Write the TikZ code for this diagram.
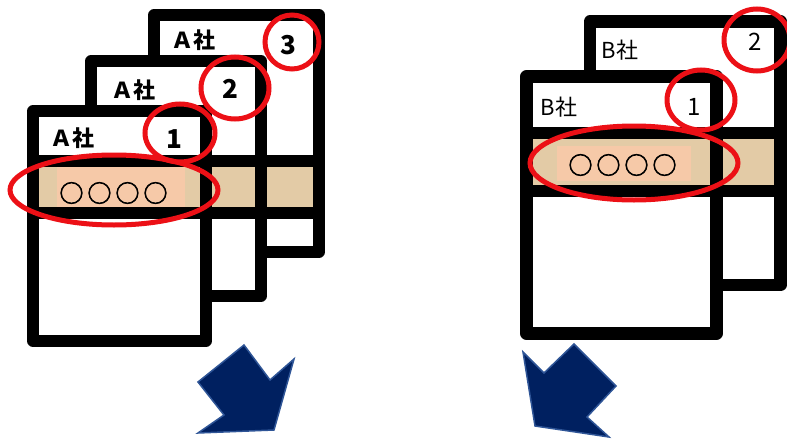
\documentclass[tikz,border=0pt]{standalone}
\usepackage{fontspec}
\newfontfamily\jp{Noto Sans CJK JP}
\newfontfamily\jpo[FakeBold=2.5]{Noto Sans CJK JP}
\definecolor{tanband}{RGB}{227,203,166}
\definecolor{peach}{RGB}{246,201,168}
\definecolor{hred}{RGB}{236,16,22}
\definecolor{navy}{RGB}{0,32,96}
\definecolor{navyedge}{RGB}{47,85,151}
\newcommand\oo{○\hspace{4pt}○\hspace{4pt}○\hspace{4pt}○}
\begin{document}
\begin{tikzpicture}[x=1pt,y=-1pt,
  bdl/.style={line width=11.5pt,black,line join=round,line cap=round},
  bdr/.style={line width=12.5pt,black,line join=round,line cap=round},
  ring/.style={draw=hred,line width=5pt},
  lbl/.style={inner sep=0pt,font=\jp\bfseries\fontsize{22}{22}\selectfont},
  num/.style={inner sep=0pt,font=\jp\bfseries\fontsize{26}{26}\selectfont},
  lblr/.style={inner sep=0pt,font=\jp\fontsize{22}{22}\selectfont},
  numr/.style={inner sep=0pt,font=\jp\fontsize{24}{24}\selectfont},
  oooo/.style={inner sep=0pt,font=\jpo\fontsize{24}{24}\selectfont},
  bigarrow/.style={fill=navy,draw=navyedge,line width=1.5pt,line join=miter}]
\useasboundingbox (0,0) rectangle (787,439);
\fill[white] (0,0) rectangle (787,439);
% ---------- left group (A) ----------
% page 3
\fill[white] (154,15) rectangle (319,252);
\fill[tanband] (154,167) rectangle (319,208);
\draw[bdl] (154,161) -- (319,161);
\draw[bdl] (154,213) -- (319,213);
\draw[bdl] (154,15) rectangle (319,252);
% page 2
\fill[white] (91,61) rectangle (261,296);
\fill[tanband] (91,167) rectangle (261,208);
\draw[bdl] (91,161) -- (261,161);
\draw[bdl] (91,213) -- (261,213);
\draw[bdl] (91,61) rectangle (261,296);
% page 1
\fill[white] (33,111) rectangle (206,341);
\fill[tanband] (33,167) rectangle (206,208);
\fill[peach] (57,167) rectangle (185,208);
\draw[bdl] (33,161) -- (206,161);
\draw[bdl] (33,213) -- (206,213);
\draw[bdl] (33,111) rectangle (206,341);
% labels
\node[lbl] (a3) at (193,40) {Ａ社};
\node[num] (n3) at (288,45) {3};
\node[lbl] (a2) at (133,90) {Ａ社};
\node[num] (n2) at (230,89) {2};
\node[lbl] (a1) at (72,138) {Ａ社};
\node[num] (n1) at (174,139) {1};
\node[oooo] (o1) at (113.5,193) {\oo};
% red rings
\draw[ring] (292,42) ellipse [x radius=27pt,y radius=27pt];
\draw[ring] (235,88) ellipse [x radius=34pt,y radius=31pt];
\draw[ring] (180,133) ellipse [x radius=35pt,y radius=29pt];
\draw[ring] (114,190) ellipse [x radius=104pt,y radius=35pt];
% ---------- right group (B) ----------
% page 2
\fill[white] (590,21.5) rectangle (780.5,285);
\fill[tanband] (590,138) rectangle (780.5,185);
\draw[bdr] (590,133) -- (780.5,133);
\draw[bdr] (590,191) -- (780.5,191);
\draw[bdr] (590,21.5) rectangle (780.5,285);
% page 1
\fill[white] (526.5,76.5) rectangle (716.5,333.5);
\fill[tanband] (526.5,138) rectangle (716.5,185);
\fill[peach] (557,146) rectangle (691,181);
\draw[bdr] (526.5,133) -- (716.5,133);
\draw[bdr] (526.5,191) -- (716.5,191);
\draw[bdr] (526.5,76.5) rectangle (716.5,333.5);
% labels
\node[lblr] (b2) at (620,50) {B社};
\node[numr] (nb2) at (755,42) {2};
\node[lblr] (b1) at (559,107) {B社};
\node[numr] (nb1) at (694,107) {1};
\node[oooo] (ob) at (622.5,165) {\oo};
% red rings
\draw[ring] (757,40) ellipse [x radius=33pt,y radius=31pt];
\draw[ring] (701,100) ellipse [x radius=34pt,y radius=30pt];
\draw[ring] (634,163) ellipse [x radius=104pt,y radius=37pt];
% ---------- arrows ----------
\draw[bigarrow] (198,382) -- (244,345) -- (270,380) -- (294,359) -- (274,430) -- (198,433) -- (224,415) -- cycle;
\draw[bigarrow] (523,352) -- (544,373) -- (574,344) -- (616,386) -- (587,417) -- (609,437) -- (535,426) -- cycle;
\end{tikzpicture}
\end{document}
